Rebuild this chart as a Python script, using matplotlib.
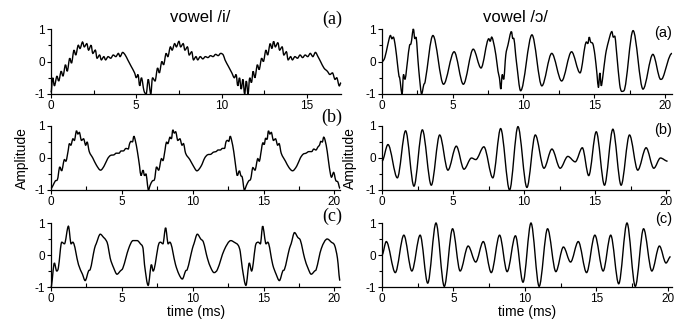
import numpy as np
import matplotlib
matplotlib.use("Agg")
import matplotlib.pyplot as plt
from matplotlib.path import Path
from matplotlib.patches import PathPatch
from matplotlib.ticker import MultipleLocator

plt.rcParams['font.family'] = ['Liberation Sans', 'DejaVu Sans']
plt.rcParams['axes.unicode_minus'] = False

# ---------------- data ----------------
# vowel /i/ (a)
li_a_t = [0.0, 0.1, 0.2, 0.35, 0.45, 0.6, 0.7, 0.85, 0.95, 1.1, 1.2, 1.35, 1.45, 1.6, 1.7, 1.85, 1.95,
          2.1, 2.2, 2.35, 2.45, 2.6, 2.7, 2.85, 2.95, 3.1, 3.2, 3.35, 3.5, 3.65, 3.8, 3.95, 4.05, 4.2,
          4.35, 4.5, 4.7, 4.9, 5.0, 5.1, 5.2, 5.3, 5.45, 5.58, 5.7, 5.85, 5.95,
          6.1, 6.25, 6.35, 6.5, 6.6, 6.75, 6.85, 7.0, 7.1, 7.25, 7.35, 7.5, 7.6, 7.75, 7.85, 8.0,
          8.1, 8.25, 8.35, 8.5, 8.6, 8.75, 8.9, 9.05, 9.2, 9.35, 9.5, 9.65, 9.8, 9.95, 10.1, 10.2,
          10.4, 10.6, 10.75, 10.85, 10.95, 11.05, 11.15, 11.25, 11.35, 11.45, 11.55, 11.65, 11.75,
          11.85, 11.95, 12.1, 12.2, 12.35, 12.45, 12.6, 12.7, 12.85, 12.95, 13.05, 13.15, 13.3, 13.4,
          13.55, 13.65, 13.8, 13.9, 14.05, 14.15, 14.3, 14.45, 14.6, 14.75, 14.9, 15.05, 15.2, 15.35,
          15.5, 15.65, 15.8, 16.0, 16.2, 16.35, 16.5, 16.65, 16.75, 16.9, 17.0]
li_a_v = [-0.95, -0.5, -0.75, -0.45, -0.6, -0.3, -0.45, -0.1, -0.3, 0.1, -0.05, 0.35, 0.2, 0.5, 0.4, 0.6, 0.45,
          0.55, 0.35, 0.5, 0.25, 0.35, 0.1, 0.2, 0.05, 0.15, 0.05, 0.15, 0.1, 0.2, 0.15, 0.25, 0.15, 0.28,
          0.2, 0.05, -0.15, -0.35, -0.5, -0.4, -0.75, -0.5, -0.9, -1.0, -0.55, -1.0, -0.5,
          -0.6, -0.2, -0.35, 0.0, -0.1, 0.25, 0.15, 0.45, 0.35, 0.55, 0.45, 0.62, 0.45, 0.55, 0.35, 0.45,
          0.2, 0.3, 0.05, 0.15, 0.05, 0.15, 0.08, 0.15, 0.12, 0.18, 0.15, 0.22, 0.18, 0.25, 0.2, 0.05,
          -0.15, -0.35, -0.5, -0.4, -0.75, -0.5, -0.85, -0.55, -1.0, -0.6, -1.0, -0.5, -0.65,
          -0.3, -0.5, -0.1, -0.25, 0.1, 0.0, 0.35, 0.2, 0.55, 0.4, 0.62, 0.45, 0.58, 0.35,
          0.45, 0.2, 0.3, 0.05, 0.15, 0.05, 0.15, 0.1, 0.2, 0.12, 0.2, 0.15, 0.25, 0.15,
          0.28, 0.15, 0.0, -0.2, -0.3, -0.4, -0.35, -0.55, -0.5, -0.75, -0.65]

# vowel /i/ (b)
li_b_t = [0.0, 0.15, 0.3, 0.45, 0.62, 0.75, 0.95, 1.05, 1.2, 1.3, 1.4, 1.55, 1.65, 1.8, 1.9, 2.0, 2.15,
          2.3, 2.45, 2.55, 2.7, 2.95, 3.2, 3.5, 3.75, 4.0, 4.2, 4.45, 4.6, 4.8, 4.95, 5.1, 5.3, 5.45,
          5.55, 5.65, 5.75, 5.85, 5.95, 6.1, 6.25, 6.35, 6.5, 6.6, 6.7, 6.88,
          7.0, 7.15, 7.3, 7.45, 7.6, 7.8, 7.9, 8.05, 8.15, 8.25, 8.4, 8.5, 8.6, 8.7, 8.8, 8.95, 9.1,
          9.25, 9.35, 9.5, 9.8, 10.05, 10.3, 10.6, 10.85, 11.05, 11.3, 11.45, 11.65, 11.8, 11.95, 12.1,
          12.25, 12.35, 12.45, 12.55, 12.65, 12.75, 12.9, 13.05, 13.15, 13.3, 13.4, 13.5, 13.65,
          13.8, 13.95, 14.1, 14.25, 14.4, 14.6, 14.7, 14.85, 14.95, 15.05, 15.15, 15.25, 15.35, 15.45,
          15.55, 15.7, 15.85, 16.0, 16.1, 16.25, 16.55, 16.8, 17.05, 17.35, 17.6, 17.8, 18.0, 18.2,
          18.4, 18.55, 18.7, 18.85, 18.95, 19.05, 19.15, 19.25, 19.35, 19.5, 19.65, 19.8, 19.95,
          20.1, 20.25, 20.4]
li_b_v = [-0.95, -0.85, -0.72, -0.68, -0.28, -0.4, -0.05, -0.1, 0.2, 0.45, 0.4, 0.6, 0.55, 0.85, 0.75, 0.8, 0.55,
          0.6, 0.4, 0.5, 0.2, 0.0, -0.22, -0.38, -0.25, -0.02, 0.08, 0.1, 0.15, 0.15, 0.22, 0.22, 0.3, 0.28,
          0.45, 0.52, 0.5, 0.68, 0.55, 0.2, -0.25, -0.55, -0.38, -0.55, -0.5, -1.0,
          -0.85, -0.72, -0.68, -0.28, -0.38, -0.02, -0.08, 0.25, 0.5, 0.45, 0.65, 0.6, 0.88, 0.78, 0.82, 0.55, 0.6,
          0.4, 0.45, 0.15, -0.05, -0.25, -0.4, -0.25, 0.0, 0.1, 0.12, 0.18, 0.2, 0.25, 0.25, 0.3,
          0.3, 0.5, 0.55, 0.52, 0.68, 0.55, 0.2, -0.3, -0.55, -0.4, -0.55, -0.6, -1.0,
          -0.85, -0.72, -0.65, -0.3, -0.38, -0.02, -0.1, 0.25, 0.48, 0.42, 0.62, 0.58, 0.85, 0.75,
          0.8, 0.55, 0.6, 0.4, 0.45, 0.15, -0.1, -0.3, -0.4, -0.25, 0.0, 0.12, 0.15, 0.2,
          0.2, 0.28, 0.25, 0.35, 0.4, 0.52, 0.5, 0.65, 0.55, 0.2, -0.3, -0.6, -0.45,
          -0.7, -0.75, -0.95]

# vowel /i/ (c)
li_c_t = [0.0, 0.24, 0.4, 0.52, 0.76, 0.95, 1.23, 1.42, 1.54, 1.94, 2.22, 2.41, 2.65, 2.77, 3.07, 3.19,
          3.48, 3.71, 3.9, 4.02, 4.18, 4.42, 4.66, 4.89, 5.08, 5.48, 5.79, 6.08, 6.31, 6.5, 6.6, 6.86,
          7.09, 7.21, 7.61, 7.73, 7.9, 8.09, 8.27, 8.39, 8.79, 9.03, 9.27, 9.5, 9.62, 9.98, 10.09,
          10.33, 10.57, 10.76, 11.04, 11.28, 11.51, 11.75, 12.22, 12.7, 12.93, 13.22, 13.36, 13.5, 13.76,
          14.0, 14.16, 14.47, 14.63, 14.78, 14.94, 15.18, 15.3, 15.65, 15.89, 16.12, 16.36, 16.48,
          16.83, 16.95, 17.19, 17.42, 17.61, 17.9, 18.13, 18.37, 18.61, 18.72, 19.08, 19.5, 19.79,
          20.02, 20.22, 20.4]
li_c_v = [-1.0, -0.25, -0.5, -0.4, 0.4, 0.35, 0.9, 0.35, 0.4, -0.3, -0.6, -0.8, -0.5, -0.45, 0.2, 0.35,
          0.65, 0.55, 0.45, 0.3, -0.1, -0.4, -0.6, -0.5, -0.4, 0.2, 0.45, 0.45, 0.35, 0.2, -0.3, -0.95,
          -0.3, -0.5, 0.35, 0.4, 0.35, 0.85, 0.35, 0.4, -0.3, -0.6, -0.75, -0.5, -0.45, 0.2, 0.35,
          0.65, 0.5, 0.4, -0.1, -0.4, -0.55, -0.45, 0.15, 0.45, 0.4, 0.3, 0.1, -0.4, -0.95,
          -0.25, -0.5, 0.35, 0.4, 0.35, 0.9, 0.35, 0.4, -0.3, -0.6, -0.8, -0.5, -0.45,
          0.2, 0.35, 0.7, 0.55, 0.45, -0.1, -0.4, -0.6, -0.5, -0.45, 0.2, 0.5, 0.4,
          0.3, -0.1, -0.8]

# vowel /ɔ/ (a)
ro_a_t = [0.0, 0.2, 0.4, 0.6, 0.7, 0.8, 0.95, 1.1, 1.2, 1.25, 1.42, 1.52, 1.62, 1.8, 1.95, 2.05, 2.22,
          2.32, 2.4, 2.55, 2.65, 2.8, 2.95, 3.05, 3.6, 4.35, 5.1, 5.75, 6.45, 7.0, 7.55, 7.65, 7.75,
          7.85, 8.05, 8.2, 8.3, 8.4, 8.5, 8.6, 8.75, 8.9, 9.15, 9.25, 9.3, 9.5, 9.8, 10.6, 11.3, 12.0,
          12.7, 13.4, 14.0, 14.45, 14.55, 14.65, 14.75, 14.9, 15.05, 15.2, 15.3, 15.4, 15.5, 15.6,
          15.8, 16.0, 16.25, 16.35, 16.45, 16.6, 16.8, 16.95, 17.1, 17.75, 18.45, 19.15, 19.7, 19.85,
          20.5]
ro_a_v = [0.0, 0.12, 0.5, 0.8, 0.7, 0.75, 0.45, -0.1, -0.45, -0.5, -1.0, -0.4, -0.55, 0.0, 0.5, 0.55, 1.0,
          0.7, 0.75, 0.0, -0.5, -1.0, -0.72, -0.62, 0.8, -0.7, 0.3, -0.7, 0.38, -0.2, 0.7, 0.62, 0.75,
          0.65, 0.2, -0.3, -0.5, -0.85, -0.4, -0.55, 0.2, 0.5, 0.92, 0.7, 0.72, 0.0, -0.9, 0.82, -0.75, 0.25,
          -0.6, 0.3, -0.35, 0.6, 0.55, 0.75, 0.6, 0.55, 0.2, -0.4, -0.8, -0.35, -0.75, -0.5,
          0.2, 0.6, 0.92, 0.75, 0.78, 0.2, -0.7, -0.92, -0.9, 0.95, -0.85, 0.22, -0.55, -0.5,
          0.25]

# vowel /ɔ/ (b)
ro_b_t = [0.0, 0.42, 1.08, 1.66, 2.25, 2.84, 3.47, 4.06, 4.64, 5.23, 5.77, 6.3, 6.6, 7.17, 7.8, 8.35,
          8.98, 9.57, 10.2, 10.79, 11.4, 11.96, 12.54, 13.08, 13.6, 14.1, 14.55, 15.08, 15.66, 16.25,
          16.83, 17.42, 18.0, 18.59, 19.13, 19.6, 20.1]
ro_b_v = [-0.1, 0.42, -0.62, 0.85, -0.88, 0.88, -0.85, 0.72, -0.38, 0.37, -0.35, 0.0, -0.05, 0.35, -0.62, 0.92,
          -1.0, 0.98, -0.92, 0.72, -0.32, 0.28, -0.32, 0.05, -0.12, 0.32, -0.55, 0.82, -0.85, 0.9,
          -0.85, 0.72, -0.38, 0.32, -0.32, 0.0, -0.1]

# vowel /ɔ/ (c)
ro_c_t = [0.0, 0.3, 0.93, 1.53, 2.09, 2.67, 3.2, 3.78, 4.36, 4.94, 5.47, 6.03, 6.56, 7.09, 7.65, 8.23,
          8.76, 9.34, 9.87, 10.43, 11.0, 11.59, 12.17, 12.7, 13.2, 13.74, 14.32, 14.9, 15.48, 16.01,
          16.57, 17.15, 17.73, 18.31, 18.89, 19.42, 19.88, 20.2]
ro_c_v = [0.0, 0.42, -0.55, 0.62, -0.5, 0.62, -0.88, 1.0, -0.98, 0.82, -0.5, 0.28, -0.22, 0.42, -0.55, 0.62,
          -0.52, 0.6, -0.85, 1.0, -0.98, 0.82, -0.52, 0.25, -0.22, 0.42, -0.55, 0.62, -0.5, 0.62,
          -0.9, 1.0, -0.98, 0.82, -0.5, 0.28, -0.25, -0.05]

titles = ["vowel /i/", "vowel /ɔ/"]
panel_labels = ["(a)", "(b)", "(c)"]
x_ticks = [0, 5, 10, 15, 20]
y_ticks = [-1, 0, 1]
x_label = "time (ms)"
y_label = "Amplitude"


def wave_path(t, v):
    t = np.asarray(t, float)
    v = np.asarray(v, float)
    n = len(t)
    m = np.zeros(n)
    for i in range(1, n - 1):
        d0 = (v[i] - v[i - 1]) / (t[i] - t[i - 1])
        d1 = (v[i + 1] - v[i]) / (t[i + 1] - t[i])
        if d0 * d1 > 0:
            s = (v[i + 1] - v[i - 1]) / (t[i + 1] - t[i - 1])
            lim = 3 * min(abs(d0), abs(d1))
            m[i] = np.sign(s) * min(abs(s), lim)
    verts = [(t[0], v[0])]
    codes = [Path.MOVETO]
    for i in range(n - 1):
        h = t[i + 1] - t[i]
        verts += [(t[i] + h / 3, v[i] + m[i] * h / 3),
                  (t[i + 1] - h / 3, v[i + 1] - m[i + 1] * h / 3),
                  (t[i + 1], v[i + 1])]
        codes += [Path.CURVE4] * 3
    return Path(verts, codes)


W, H = 682, 322
fig = plt.figure(figsize=(W / 100, H / 100), dpi=100)


def px_axes(x0, x1, y_top, y_bot):
    return fig.add_axes([x0 / W, 1 - y_bot / H, (x1 - x0) / W, (y_bot - y_top) / H])


rows = [(29, 94), (126, 190), (223, 287)]
left_cols = [(51, 341), (51, 340), (51, 340)]
right_cols = [(382, 672), (382, 669), (382, 672)]
left_xmax = [17.0, 20.4, 20.4]
right_xmax = [20.5, 20.2, 20.3]
left_data = [(li_a_t, li_a_v), (li_b_t, li_b_v), (li_c_t, li_c_v)]
right_data = [(ro_a_t, ro_a_v), (ro_b_t, ro_b_v), (ro_c_t, ro_c_v)]


def style(ax, xmax):
    for s in ['top', 'right']:
        ax.spines[s].set_visible(False)
    for s in ['left', 'bottom']:
        ax.spines[s].set_linewidth(0.9)
    ax.set_xticks([x for x in x_ticks if x <= xmax])
    ax.set_yticks(y_ticks)
    ax.xaxis.set_minor_locator(MultipleLocator(2.5))
    ax.yaxis.set_minor_locator(MultipleLocator(0.5))
    ax.set_xlim(0, xmax)
    ax.set_ylim(-1, 1)
    ax.tick_params(axis='x', which='major', direction='out', length=3, width=0.8, labelsize=8.5, pad=1.5)
    ax.tick_params(axis='x', which='minor', direction='in', length=3, width=0.8)
    ax.tick_params(axis='y', which='both', direction='out', length=3, width=0.8, labelsize=8.5, pad=1.5)
    ax.tick_params(axis='y', which='minor', length=2)
    ax.patch.set_alpha(0)


for r in range(3):
    ax = px_axes(left_cols[r][0], left_cols[r][1], rows[r][0], rows[r][1])
    style(ax, left_xmax[r])
    t, v = left_data[r]
    ax.add_patch(PathPatch(wave_path(t, v), fill=False, lw=1.0, edgecolor='black', clip_on=False))

    ax2 = px_axes(right_cols[r][0], right_cols[r][1], rows[r][0], rows[r][1])
    style(ax2, right_xmax[r])
    t, v = right_data[r]
    ax2.add_patch(PathPatch(wave_path(t, v), fill=False, lw=1.0, edgecolor='black', clip_on=False))

# titles
fig.text(200 / W, 1 - 17 / H, titles[0], ha='center', va='center', fontsize=12)
fig.text(515 / W, 1 - 17 / H, titles[1], ha='center', va='center', fontsize=12)

# panel labels
left_lab_y = [19, 117, 216]
right_lab_y = [33, 130, 219]
for r in range(3):
    fig.text(342 / W, 1 - left_lab_y[r] / H, panel_labels[r], ha='right', va='center',
             fontsize=13, family=['Liberation Serif', 'DejaVu Serif'])
    fig.text(672 / W, 1 - right_lab_y[r] / H, panel_labels[r], ha='right', va='center', fontsize=10.5)

# axis labels
fig.text(22 / W, 1 - 158 / H, y_label, rotation=90, ha='center', va='center', fontsize=10)
fig.text(350 / W, 1 - 158 / H, y_label, rotation=90, ha='center', va='center', fontsize=10)
fig.text(196 / W, 1 - 312 / H, x_label, ha='center', va='center', fontsize=10)
fig.text(527 / W, 1 - 312 / H, x_label, ha='center', va='center', fontsize=10)

fig.savefig("out.png", dpi=100)
